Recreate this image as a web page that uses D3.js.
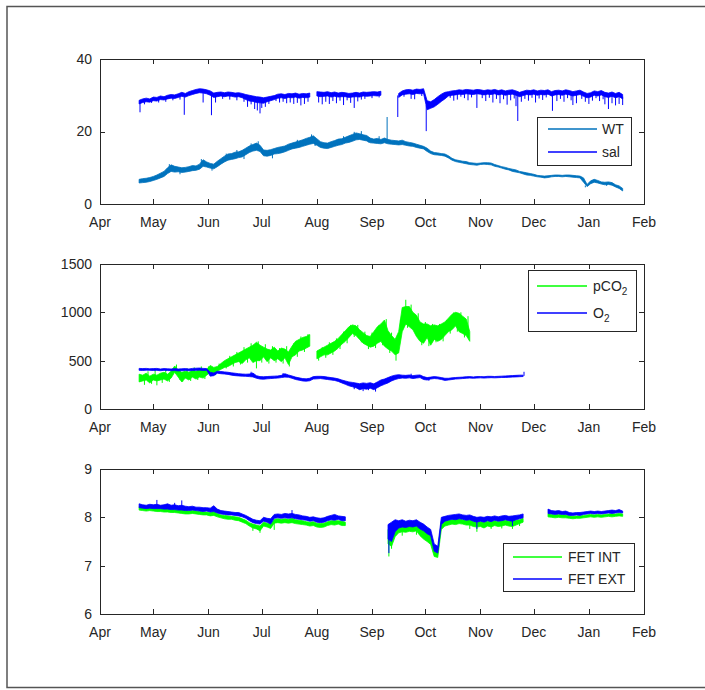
<!DOCTYPE html>
<html>
<head>
<meta charset="utf-8">
<script src="https://d3js.org/d3.v7.min.js"></script>
<style>
  body { margin: 0; background: #fff; }
  text { font-family: "Liberation Sans", Arial, sans-serif; fill: #262626; }
</style>
</head>
<body>
<div id="chart"></div>
<script>
var startDate = new Date(2016, 3, 1);   // Apr 1
var endDate = new Date(2017, 1, 1);     // Feb 1
var step = 2;                           // days between samples
var monthLabels = ["Apr", "May", "Jun", "Jul", "Aug", "Sep", "Oct", "Nov", "Dec", "Jan", "Feb"];
var tempTicks = [0, 20, 40];
var gasTicks = [0, 500, 1000, 1500];
var phTicks = [6, 7, 8, 9];

// every series: first sample day (days after Apr 1), then the [low, high] core of each sample
// spikes are single excursions off the core: [day, value]
var wtFirst = 22;
var wtData = [
  [5.8,6.8],[5.9,7.0],[6.0,7.1],[6.2,7.3],[6.5,7.6],[6.8,8.0],[7.2,8.5],[7.6,9.0],[8.4,10.0],[9.0,10.8],
  [8.8,10.4],[8.9,10.2],[8.7,10.0],[8.8,10.1],[9.0,10.3],[9.2,10.6],[9.3,10.5],[9.6,11.0],[10.4,12.2],[10.2,11.6],
  [9.9,11.2],[9.7,11.0],[10.3,11.8],[11.0,12.5],[11.6,13.2],[12.1,13.8],[12.3,13.9],[12.5,14.3],[12.8,14.4],[13.0,14.8],
  [13.6,15.4],[14.2,16.0],[14.6,16.4],[14.8,16.8],[14.5,16.2],[13.3,14.9],[13.2,14.8],[13.4,15.0],[13.8,15.3],[13.9,15.6],
  [14.1,15.8],[14.4,16.0],[14.8,16.5],[15.2,16.8],[15.4,17.1],[15.6,17.4],[15.9,17.7],[16.2,18.1],[16.5,18.4],[16.7,18.8],
  [16.2,18.0],[15.6,17.2],[15.4,16.9],[15.3,16.8],[15.6,17.2],[15.9,17.5],[16.2,17.9],[16.4,18.0],[16.8,18.4],[17.0,18.8],
  [17.3,19.2],[17.7,19.6],[17.8,19.4],[17.6,19.1],[17.4,18.9],[16.9,18.2],[16.8,17.9],[16.7,18.1],[16.6,17.8],[16.9,18.2],
  [16.6,17.8],[16.5,17.6],[16.4,17.5],[16.3,17.4],[16.4,17.6],[16.2,17.2],[16.0,17.0],[15.9,16.8],[15.6,16.5],[15.4,16.2],
  [15.2,15.9],[14.5,15.4],[13.9,14.6],[13.6,14.2],[13.5,14.1],[13.4,13.9],[13.2,13.8],[12.7,13.3],[12.1,12.6],[11.7,12.2],
  [11.5,12.0],[11.3,11.8],[11.1,11.7],[10.9,11.4],[10.8,11.3],[10.7,11.2],[10.9,11.3],[11.0,11.4],[10.9,11.4],[10.8,11.3],
  [10.4,10.9],[10.2,10.6],[9.9,10.3],[9.6,10.1],[9.4,9.8],[9.0,9.6],[8.8,9.4],[8.6,9.0],[8.3,8.8],[8.0,8.6],
  [7.9,8.4],[7.7,8.2],[7.5,7.9],[7.4,7.8],[7.2,7.7],[7.3,7.8],[7.5,7.9],[7.6,8.0],[7.6,8.0],[7.5,7.9],
  [7.6,8.0],[7.5,8.0],[7.4,7.9],[7.3,7.8],[7.2,7.7],[6.0,7.2],[4.8,5.4],[5.6,6.4],[6.0,6.8],[5.8,6.5],
  [5.5,6.1],[5.3,6.0],[5.4,6.1],[5.2,5.9],[4.7,5.3],[4.3,5.0],[3.6,4.3]
];
var wtSpikes = [[39, 11.0], [45, 8.2], [57, 12.4], [63, 9.2], [71, 13.9], [77, 14.9], [81, 12.4], [85, 16.7],
                [89, 17.3], [97, 12.6], [111, 17.7], [119, 19.2], [121, 16.0], [137, 18.7], [143, 19.9],
                [147, 20.1], [151, 17.0], [157, 18.7], [161.5, 24.0], [273, 4.6], [285, 5.0]];

var salFirst = 22;
var salData = [
  [27.6,28.6],[28.0,29.0],[28.2,29.2],[28.1,29.0],[28.5,29.5],[28.4,29.4],[28.8,29.8],[28.7,29.6],[29.0,30.0],[29.2,30.2],
  [29.1,30.1],[29.4,30.4],[29.7,30.8],[29.5,30.5],[29.9,31.0],[30.2,31.3],[30.5,31.6],[30.7,31.8],[30.6,31.7],[30.4,31.5],
  [30.0,31.2],[29.4,30.6],[29.6,30.8],[29.8,30.9],[29.6,30.7],[29.8,30.9],[29.7,30.8],[29.5,30.6],[29.6,30.7],[29.3,30.5],
  [28.8,30.2],[28.4,30.0],[28.3,29.8],[28.0,29.6],[27.9,29.5],[27.8,29.3],[28.2,29.5],[28.5,29.7],[28.8,29.9],[29.2,30.3],
  [29.3,30.4],[29.1,30.2],[29.4,30.5],[29.3,30.4],[29.5,30.6],[29.2,30.3],[29.4,30.5],[29.3,30.4],[29.5,30.6],null,
  [29.8,31.0],[29.6,30.9],[29.7,30.8],[29.8,31.0],[29.5,30.7],[29.7,30.9],[29.5,30.6],[29.6,30.8],[29.6,30.7],[29.4,30.5],
  [29.5,30.6],[29.6,30.8],[29.5,30.6],[29.8,30.9],[29.7,30.8],[29.8,30.9],[29.9,31.0],[29.8,30.9],[30.0,31.1],null,
  null,null,null,[29.4,30.5],[30.1,31.2],[30.3,31.5],[30.4,31.6],[30.2,31.4],[30.5,31.7],[30.4,31.6],
  [30.5,31.8],[26.0,28.5],[26.4,28.2],[26.8,28.8],[27.5,29.6],[28.3,30.3],[29.0,30.8],[29.8,31.0],[30.0,31.2],[30.1,31.3],
  [30.3,31.5],[30.2,31.4],[30.4,31.6],[30.3,31.5],[30.2,31.4],[30.4,31.6],[30.3,31.5],[30.1,31.3],[30.3,31.5],[30.2,31.4],
  [30.4,31.6],[30.1,31.3],[30.3,31.5],[30.0,31.2],[30.2,31.4],[30.3,31.5],[30.0,31.2],[29.6,30.8],[29.9,31.1],[30.2,31.4],
  [30.1,31.3],[30.3,31.5],[30.0,31.2],[30.2,31.4],[30.1,31.3],[30.3,31.5],[29.8,31.0],[30.1,31.3],[30.2,31.4],[30.0,31.2],
  [30.3,31.5],[30.1,31.3],[29.8,31.0],[30.0,31.2],[30.2,31.4],[29.7,30.9],[29.3,30.5],[29.5,30.7],[30.0,31.2],[29.8,31.0],
  [30.1,31.3],[29.6,30.8],[29.4,30.6],[29.7,30.9],[29.3,30.5],[29.6,30.8],[29.0,30.2]
];
var salSpikes = [
  [22.5,25.3],[25,27.5],[29,27.9],[33,28.0],[37,28.2],[41,28.6],[45,28.8],[47.4,24.6],[58,28.0],[62.7,24.5],
  [65,28.0],[69,29.0],[73,28.8],[77,28.6],[81,28.2],[83,26.8],[85,27.5],[87,26.2],[88.5,25.8],[90,25.0],
  [91,26.5],[93,26.8],[95,27.6],[99,28.4],[101,28.0],[103,28.2],[105,27.8],[107,28.0],[109,27.6],[111,27.9],
  [113,27.2],[115,27.6],[117,28.2],[119,28.4],[123,28.0],[125,27.5],[127,28.2],[129,27.6],[131,28.4],[133,27.8],
  [135,28.5],[137,27.3],[139,28.6],[141,27.9],[143,26.5],[145,28.3],[147,28.8],[149,29.0],[153,29.2],[157,29.4],
  [167.5,24.0],[171,29.6],[175,29.0],[177,28.9],[181,29.8],[183.5,20.1],
  [197,29.3],[199,28.5],[201,28.8],[203,29.6],[205,29.2],[207,28.6],[209,29.4],[212,26.5],[215,29.2],[217,28.4],
  [219,29.3],[221,28.0],[223,29.0],[225,27.8],[227,28.9],[229,27.4],[231,28.6],[233,29.1],[234,27.0],[235,22.9],
  [237,28.2],[239,29.0],[241,28.5],[243,29.3],[245,28.0],[247,29.1],[249,28.7],[251,29.4],[254.5,25.7],[257,28.4],
  [259,29.0],[261,28.2],[263,29.2],[265,28.6],[266,27.3],[268,27.8],[271,29.0],[273,28.2],[275,27.6],[277,28.5],
  [279,29.2],[281,28.4],[283,28.9],[284,27.5],[286,26.2],[288,27.8],[290,27.2],[292,27.6],[294,27.3]
];

var pco2First = 22;
var pco2Data = [
  [280,360],[290,350],[300,370],[270,340],[300,360],[290,350],[300,370],[310,380],[290,360],[320,390],
  [380,445],[330,400],[280,380],[320,390],[300,380],[330,400],[310,390],[330,410],[320,400],[350,410],
  [380,450],[360,430],[390,440],[410,470],[430,500],[440,520],[460,540],[480,560],[490,580],[470,600],
  [510,620],[530,640],[480,660],[500,690],[500,660],[540,640],[490,620],[530,610],[500,640],[520,600],
  [490,630],[530,620],[460,590],[540,650],[560,700],[600,720],[610,740],[630,750],[650,770],null,
  [520,600],[540,620],[560,640],[560,660],[580,680],[600,700],[630,730],[670,770],[700,810],[740,850],
  [780,870],[760,860],[720,820],[680,790],[660,760],[640,750],[650,800],[680,850],[700,880],[650,920],
  [620,810],[600,760],[560,720],[580,800],[800,1050],[880,1060],[850,1060],[820,1000],[750,970],[700,900],
  [680,880],[740,880],[660,860],[720,870],[700,860],[720,880],[760,900],[800,940],[820,980],[860,1000],
  [800,990],[780,960],[760,930],[700,800]
];
var pco2Spikes = [
  [25,250],[27,390],[29,260],[31,400],[32,245],[35,270],[37,410],[39,280],[43,460],[45,300],
  [46.5,282],[49,420],[51,290],[53,430],[55,300],[57,440],[59,310],[61,440],[65,350],[67,470],
  [71,420],[73,550],[75,440],[77,590],[79,460],[81,640],[83,480],[85,680],[88,420],[89,700],
  [91,480],[93,670],[95,470],[97,650],[99,480],[101,630],[103,470],[105,650],[106.5,440],[109,680],
  [111,540],[113,750],[115,590],[117,775],[123,500],[125,640],[127,530],[129,690],[131,560],[133,730],
  [135,620],[137,800],[139,680],[141,870],[143,745],[145,870],[147,690],[149,800],[151,620],[153,790],
  [155,630],[157,870],[159,660],[161,930],[163,580],[164,790],[166.5,500],[169,760],[172,1130],[173,840],
  [175,1080],[177,800],[179,990],[181,660],[183,900],[185,650],[187,880],[189,690],[191,880],[193,700],
  [195,920],[197,780],[199,1000],[201,800],[203,1000],[205,740],[207,960]
];

var o2First = 22;
var o2Data = [
  [400,420],[398,418],[402,420],[400,416],[398,418],[400,420],[396,414],[400,418],[398,416],[396,414],
  [398,418],[394,414],[396,416],[398,418],[396,414],[398,420],[400,422],[402,424],[398,420],[400,418],
  [340,380],[345,372],[370,390],[365,388],[362,384],[358,380],[350,374],[345,370],[342,365],[340,362],
  [338,360],[335,362],[332,372],[318,345],[310,335],[308,334],[312,336],[315,338],[318,340],[320,342],
  [325,348],[330,365],[328,352],[318,342],[305,330],[298,322],[290,315],[288,312],[292,318],[310,335],
  [312,338],[315,338],[310,336],[305,330],[300,325],[295,320],[285,312],[270,300],[255,290],[240,280],
  [230,275],[220,268],[200,262],[210,270],[205,265],[215,272],[200,260],[220,280],[240,300],[255,310],
  [270,325],[290,340],[305,350],[315,355],[320,350],[318,348],[322,352],[315,345],[320,350],[325,352],
  [305,335],[300,325],[310,330],[315,335],[312,332],[305,325],[296,318],[300,318],[305,322],[310,326],
  [312,328],[315,330],[318,334],[320,335],[318,332],[320,336],[322,336],[320,334],[322,338],[324,338],
  [322,336],[324,338],[326,340],[326,342],[328,344],[330,346],[332,348],[334,350],[336,350]
];
var o2Spikes = [[85, 385], [103, 372], [143, 205], [148, 185], [151, 195], [155, 180], [165, 300],
                [175, 365], [185, 292], [238.5, 385]];

var fetIntFirst = 22;
var fetIntData = [
  [8.15,8.22],[8.14,8.20],[8.13,8.19],[8.14,8.20],[8.13,8.19],[8.12,8.19],[8.12,8.18],[8.11,8.18],[8.11,8.17],[8.10,8.17],
  [8.10,8.16],[8.09,8.15],[8.08,8.15],[8.07,8.14],[8.07,8.13],[8.08,8.14],[8.07,8.13],[8.06,8.12],[8.05,8.11],[8.05,8.11],
  [8.03,8.10],[8.04,8.12],[8.01,8.08],[7.99,8.05],[7.97,8.04],[7.96,8.03],[7.96,8.02],[7.94,8.01],[7.93,8.00],[7.90,7.97],
  [7.87,7.94],[7.82,7.89],[7.78,7.86],[7.76,7.84],[7.72,7.82],[7.82,7.90],[7.80,7.88],[7.77,7.86],[7.88,7.96],[7.89,7.97],
  [7.88,7.96],[7.89,7.97],[7.88,7.96],[7.89,7.98],[7.87,7.95],[7.86,7.94],[7.85,7.93],[7.84,7.91],[7.82,7.90],[7.83,7.91],
  [7.80,7.88],[7.79,7.87],[7.80,7.88],[7.83,7.91],[7.85,7.93],[7.84,7.93],[7.86,7.93],[7.83,7.92],[7.83,7.90],
  null,null,null,null,null,null,null,null,null,null,null,
  [7.45,7.75],[7.40,7.80],[7.60,7.85],[7.68,7.83],[7.70,7.85],[7.69,7.82],[7.71,7.84],[7.70,7.83],[7.72,7.85],[7.62,7.80],
  [7.55,7.74],[7.50,7.68],[7.44,7.62],[7.19,7.35],[7.17,7.32],[7.75,7.92],[7.82,7.93],[7.84,7.94],[7.86,7.95],[7.85,7.96],
  [7.87,7.97],[7.86,7.95],[7.84,7.94],[7.84,7.95],[7.81,7.92],[7.80,7.90],[7.81,7.91],[7.78,7.90],[7.82,7.92],[7.80,7.91],
  [7.83,7.93],[7.81,7.91],[7.82,7.93],[7.84,7.94],[7.82,7.92],[7.81,7.93],[7.84,7.94],[7.87,7.95],[7.90,7.98],
  null,null,null,null,null,null,
  [8.01,8.08],[8.00,8.06],[7.99,8.05],[8.00,8.06],[7.99,8.05],[7.99,8.05],[7.98,8.03],[7.97,8.02],[7.98,8.03],[7.98,8.03],
  [7.99,8.04],[8.00,8.05],[8.01,8.06],[8.00,8.05],[8.01,8.06],[8.00,8.05],[8.01,8.06],[8.02,8.07],[8.01,8.07],[8.02,8.07],
  [8.03,8.08],[8.02,8.07]
];
var fetIntSpikes = [[86, 7.72], [90, 7.68], [98, 7.74], [139, 7.70], [162.5, 7.19], [164, 7.35], [170, 7.62],
                    [178, 7.64], [208, 7.76], [212, 7.70], [220, 7.76], [226, 7.77], [232, 7.76], [236, 7.82]];

var fetExtFirst = 22;
var fetExtData = [
  [8.20,8.28],[8.19,8.26],[8.18,8.25],[8.19,8.27],[8.18,8.26],[8.18,8.27],[8.18,8.25],[8.17,8.26],[8.17,8.28],[8.16,8.25],
  [8.16,8.26],[8.15,8.24],[8.15,8.25],[8.14,8.23],[8.14,8.22],[8.15,8.23],[8.14,8.21],[8.13,8.21],[8.12,8.20],[8.13,8.20],
  [8.11,8.19],[8.12,8.24],[8.09,8.17],[8.07,8.14],[8.06,8.13],[8.05,8.12],[8.05,8.11],[8.04,8.10],[8.03,8.10],[8.01,8.07],
  [7.98,8.04],[7.93,8.00],[7.89,7.96],[7.87,7.94],[7.86,7.93],[7.92,8.00],[7.90,7.98],[7.86,7.97],[7.98,8.06],[7.99,8.07],
  [7.98,8.06],[7.99,8.08],[7.98,8.07],[7.99,8.08],[7.97,8.06],[7.96,8.05],[7.95,8.03],[7.94,8.02],[7.92,8.00],[7.93,8.01],
  [7.90,7.99],[7.89,7.98],[7.90,7.99],[7.93,8.02],[7.95,8.04],[7.94,8.06],[7.96,8.03],[7.93,8.02],[7.93,8.01],
  null,null,null,null,null,null,null,null,null,null,null,
  [7.55,7.85],[7.50,7.90],[7.70,7.95],[7.78,7.93],[7.80,7.95],[7.79,7.92],[7.81,7.94],[7.80,7.93],[7.82,7.95],[7.76,7.90],
  [7.72,7.86],[7.66,7.80],[7.62,7.75],[7.30,7.45],[7.26,7.40],[7.85,8.00],[7.92,8.02],[7.94,8.04],[7.96,8.05],[7.95,8.06],
  [7.97,8.07],[7.96,8.05],[7.94,8.04],[7.95,8.05],[7.92,8.02],[7.90,8.00],[7.92,8.01],[7.90,8.00],[7.93,8.02],[7.91,8.01],
  [7.94,8.03],[7.92,8.01],[7.93,8.03],[7.95,8.04],[7.93,8.02],[7.92,8.03],[7.95,8.04],[7.97,8.05],[7.99,8.07],
  null,null,null,null,null,null,
  [8.08,8.17],[8.07,8.14],[8.06,8.13],[8.07,8.14],[8.06,8.12],[8.06,8.13],[8.04,8.10],[8.04,8.09],[8.05,8.10],[8.04,8.10],
  [8.06,8.11],[8.07,8.12],[8.08,8.13],[8.07,8.12],[8.08,8.13],[8.07,8.12],[8.08,8.13],[8.09,8.14],[8.08,8.15],[8.09,8.14],
  [8.10,8.16],[8.09,8.13]
];
var fetExtSpikes = [[32, 8.36], [42, 8.30], [46, 8.35], [108, 8.15], [139, 7.77], [162.5, 7.26], [212, 7.76], [232, 7.82]];

var w = 705;
var h = 690;
var left = 100, right = 644;
var axisColor = "#262626";

var svg = d3.select("#chart")
            .append("svg")
            .attr("width", w)
            .attr("height", h);

// figure frame
svg.append("rect")
    .attr("x", 7).attr("y", 6.5)
    .attr("width", 720).attr("height", 681)
    .attr("fill", "none")
    .attr("stroke", "#555")
    .attr("stroke-width", 1.5);

var x = d3.scaleTime()
          .domain([startDate, endDate])
          .range([left, right]);

var monthTicks = x.ticks(d3.timeMonth.every(1));

function dayToDate(day) {
    return new Date(startDate.getTime() + day * 864e5);
}

var panels = [
    { top: 59, bottom: 204, domain: [0, 40], ticks: tempTicks,
      series: [ {first: wtFirst, data: wtData, spikes: wtSpikes, color: "#0072BD"},
                {first: salFirst, data: salData, spikes: salSpikes, color: "#0000FF"} ],
      legend: { x: 537, y: 117, w: 94, h: 48, rows: [129, 152], line: [548, 597], tx: 602,
                items: [ {label: "WT", sub: "", color: "#0072BD"}, {label: "sal", sub: "", color: "#0000FF"} ] } },
    { top: 264, bottom: 409, domain: [0, 1500], ticks: gasTicks,
      series: [ {first: pco2First, data: pco2Data, spikes: pco2Spikes, color: "#00FF00"},
                {first: o2First, data: o2Data, spikes: o2Spikes, color: "#0000FF"} ],
      legend: { x: 528, y: 270, w: 108, h: 61, rows: [286, 313], line: [537, 587], tx: 593,
                items: [ {label: "pCO", sub: "2", color: "#00FF00"}, {label: "O", sub: "2", color: "#0000FF"} ] } },
    { top: 469, bottom: 614, domain: [6, 9], ticks: phTicks,
      series: [ {first: fetIntFirst, data: fetIntData, spikes: fetIntSpikes, color: "#00FF00"},
                {first: fetExtFirst, data: fetExtData, spikes: fetExtSpikes, color: "#0000FF"} ],
      legend: { x: 503, y: 543, w: 131, h: 48, rows: [557, 579], line: [513, 562], tx: 568,
                items: [ {label: "FET INT", sub: "", color: "#00FF00"}, {label: "FET EXT", sub: "", color: "#0000FF"} ] } }
];

panels.forEach(function(p){
    var y = d3.scaleLinear()
              .domain(p.domain)
              .range([p.bottom, p.top]);

    var g = svg.append("g");

    p.series.forEach(function(s){
        var band = d3.area()
                     .defined(function(d){ return d !== null; })
                     .x(function(d, i){ return x(dayToDate(s.first + i * step)); })
                     .y0(function(d){ return y(d[0]); })
                     .y1(function(d){ return y(d[1]); });

        g.append("path")
         .datum(s.data)
         .attr("d", band)
         .attr("fill", s.color)
         .attr("stroke", s.color)
         .attr("stroke-width", 0.8)
         .attr("stroke-linejoin", "round");

        // single excursions, drawn from the middle of the nearest sample
        s.spikes.forEach(function(sp){
            var idx = Math.max(0, Math.min(s.data.length - 1, Math.round((sp[0] - s.first) / step)));
            var d = s.data[idx];
            var mid = d ? (d[0] + d[1]) / 2 : sp[1];
            var xx = x(dayToDate(sp[0]));
            g.append("line")
             .attr("x1", xx).attr("x2", xx)
             .attr("y1", y(mid)).attr("y2", y(sp[1]))
             .attr("stroke", s.color)
             .attr("stroke-width", 1);
        });
    });

    // axes box
    g.append("rect")
     .attr("x", left + 0.5).attr("y", p.top + 0.5)
     .attr("width", right - left).attr("height", p.bottom - p.top)
     .attr("fill", "none")
     .attr("stroke", axisColor)
     .attr("stroke-width", 1);

    // x ticks, inward on bottom and top
    monthTicks.forEach(function(t, i){
        var xx = Math.round(x(t)) + 0.5;
        g.append("line").attr("x1", xx).attr("x2", xx)
         .attr("y1", p.bottom).attr("y2", p.bottom - 5)
         .attr("stroke", axisColor);
        g.append("line").attr("x1", xx).attr("x2", xx)
         .attr("y1", p.top).attr("y2", p.top + 5)
         .attr("stroke", axisColor);
        g.append("text")
         .attr("x", x(t))
         .attr("y", p.bottom + 23)
         .attr("text-anchor", "middle")
         .attr("font-size", "14px")
         .text(monthLabels[i]);
    });

    // y ticks, inward on left and right
    p.ticks.forEach(function(v){
        var yy = Math.round(y(v)) + 0.5;
        g.append("line").attr("x1", left).attr("x2", left + 5)
         .attr("y1", yy).attr("y2", yy).attr("stroke", axisColor);
        g.append("line").attr("x1", right).attr("x2", right - 5)
         .attr("y1", yy).attr("y2", yy).attr("stroke", axisColor);
        g.append("text")
         .attr("x", left - 8)
         .attr("y", y(v))
         .attr("dy", "0.35em")
         .attr("text-anchor", "end")
         .attr("font-size", "14px")
         .text(v);
    });

    // legend
    var L = p.legend;
    g.append("rect")
     .attr("x", L.x + 0.5).attr("y", L.y + 0.5)
     .attr("width", L.w).attr("height", L.h)
     .attr("fill", "#fff")
     .attr("stroke", axisColor);

    L.items.forEach(function(it, i){
        g.append("line")
         .attr("x1", L.line[0]).attr("x2", L.line[1])
         .attr("y1", L.rows[i]).attr("y2", L.rows[i])
         .attr("stroke", it.color)
         .attr("stroke-width", 1.5);
        var t = g.append("text")
                 .attr("x", L.tx)
                 .attr("y", L.rows[i])
                 .attr("dy", "0.35em")
                 .attr("font-size", "14px");
        t.append("tspan").text(it.label);
        if (it.sub) {
            t.append("tspan")
             .attr("font-size", "10px")
             .attr("dy", "0.45em")
             .text(it.sub);
        }
    });
});
</script>
</body>
</html>
